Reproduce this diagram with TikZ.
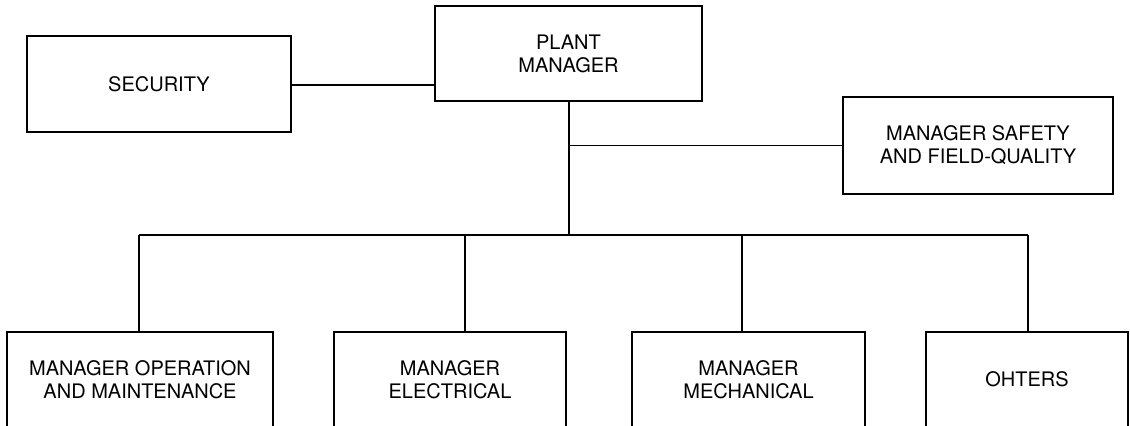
\documentclass[tikz,border=0pt]{standalone}
\usepackage{fontspec}
\setmainfont{TeX Gyre Heros}
\begin{document}
\begin{tikzpicture}[x=0.5pt,y=-0.5pt,
  box/.style={draw, line width=1.4pt, rectangle, align=center, inner sep=0pt,
    font=\fontsize{10}{11.5}\selectfont},
  conn/.style={line width=0.75pt}]
\useasboundingbox (0,0) rectangle (1130,426);
\clip (0,0) rectangle (1130,426);
% top level
\node[box, minimum width=133.5pt, minimum height=47.5pt] (pm) at (568.5,53.5) {PLANT\\MANAGER};
\node[box, minimum width=132pt, minimum height=48pt] (sec) at (159,84) {SECURITY};
\node[box, minimum width=135pt, minimum height=48.5pt] (saf) at (978,145.5) {MANAGER SAFETY\\AND FIELD-QUALITY};
% bottom level
\node[box, minimum width=133pt, minimum height=47.5pt] (om) at (140,379.5) {MANAGER OPERATION\\AND MAINTENANCE};
\node[box, minimum width=116pt, minimum height=47.5pt] (el) at (450,379.5) {MANAGER\\ELECTRICAL};
\node[box, minimum width=116.5pt, minimum height=47.5pt] (me) at (748.5,379.5) {MANAGER\\MECHANICAL};
\node[box, minimum width=101pt, minimum height=47.5pt] (ot) at (1027,379.5) {OHTERS};
% bus coordinates
\coordinate (hub) at (569,235);
\coordinate (b1) at (139,235);
\coordinate (b2) at (465,235);
\coordinate (b3) at (742,235);
\coordinate (b4) at (1028,235);
% connectors
\draw[conn] (sec.east |- 0,85) -- (pm.west |- 0,85);
\draw[conn] (pm.south -| hub) -- (hub);
\draw[conn] (hub |- saf.west) -- (saf.west);
\draw[conn] (b1) -- (b4);
\draw[conn] (b1) -- (b1 |- om.north);
\draw[conn] (b2) -- (b2 |- el.north);
\draw[conn] (b3) -- (b3 |- me.north);
\draw[conn] (b4) -- (b4 |- ot.north);
\end{tikzpicture}
\end{document}
